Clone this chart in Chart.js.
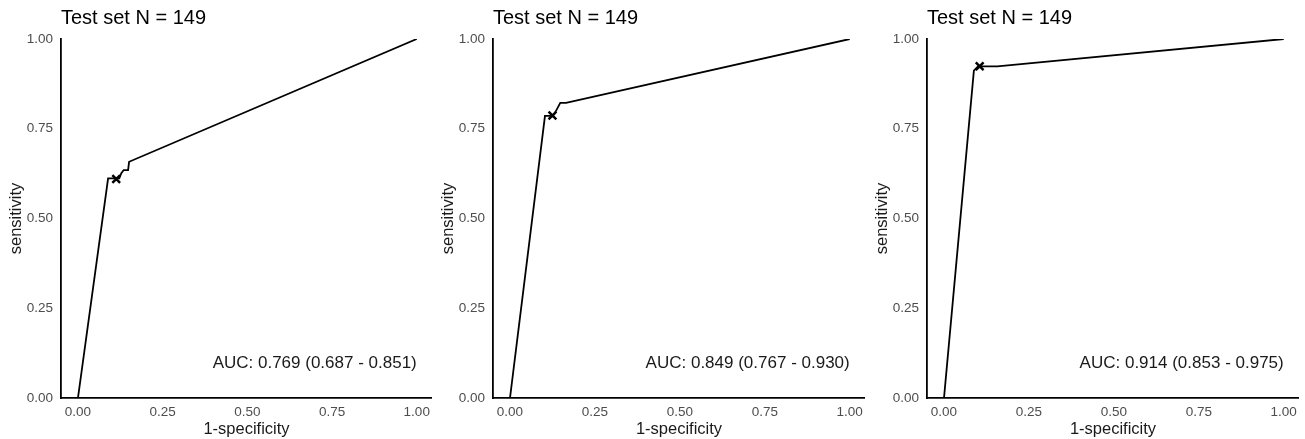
<!DOCTYPE html>
<html>
<head>
<meta charset="utf-8">
<script src="https://cdn.jsdelivr.net/npm/chart.js@4.4.1/dist/chart.umd.min.js"></script>
<style>
  body{ margin:0; background:#fff; }
  .panel{ position:absolute; top:0; }
</style>
</head>
<body>
<div class="panel" style="left:0px"><canvas id="roc1" width="432" height="439"></canvas></div>
<div class="panel" style="left:432px"><canvas id="roc2" width="433" height="439"></canvas></div>
<div class="panel" style="left:866px"><canvas id="roc3" width="433" height="439"></canvas></div>
<script>
// ========================== DATA ==========================
const tickValues = [0, 0.25, 0.5, 0.75, 1];
const titleText = "Test set N = 149";

// panel 1
const fpr1 = [0, 0.089, 0.11, 0.122, 0.128, 0.135, 0.148, 0.151, 1];
const tpr1 = [0, 0.612, 0.612, 0.612, 0.626, 0.635, 0.635, 0.658, 1];
const cut1 = [0.113, 0.61];
const auc1 = "AUC: 0.769 (0.687 - 0.851)";

// panel 2
const fpr2 = [0, 0.103, 0.12, 0.13, 0.148, 0.165, 1];
const tpr2 = [0, 0.786, 0.786, 0.79, 0.822, 0.822, 1];
const cut2 = [0.125, 0.787];
const auc2 = "AUC: 0.849 (0.767 - 0.930)";

// panel 3
const fpr3 = [0, 0.088, 0.1, 0.157, 1];
const tpr3 = [0, 0.912, 0.924, 0.924, 1];
const cut3 = [0.105, 0.924];
const auc3 = "AUC: 0.914 (0.853 - 0.975)";

// ========================== HELPERS ==========================
const FONT = "'Liberation Sans', Arial, sans-serif";

function toPoints(xs, ys){
  return xs.map((x,i)=>({x:x, y:ys[i]}));
}

// draws the AUC label bottom right, placed in data units
const aucLabel = {
  id:"aucLabel",
  afterDatasetsDraw(chart, args, opts){
    const ctx = chart.ctx;
    const xs = chart.scales.x, ys = chart.scales.y;
    ctx.save();
    ctx.font = "17px " + FONT;
    ctx.fillStyle = "#1a1a1a";
    ctx.textAlign = "right";
    ctx.textBaseline = "middle";
    ctx.fillText(opts.text, xs.getPixelForValue(1), ys.getPixelForValue(0.097));
    ctx.restore();
  }
};

// ========================== CHART ==========================
function makeRoc(id, fpr, tpr, cut, auc){
  const ctx = document.getElementById(id).getContext("2d");
  return new Chart(ctx,{
    type:"scatter",
    data:{
      datasets:[
        {
          data:toPoints(fpr,tpr),
          showLine:true,
          borderColor:"#000",
          borderWidth:1.8,
          pointRadius:0,
          tension:0
        },
        {
          data:[{x:cut[0], y:cut[1]}],
          pointStyle:"crossRot",
          pointRadius:5.5,
          borderColor:"#000",
          borderWidth:2.5
        }
      ]
    },
    options:{
      responsive:false,
      animation:false,
      layout:{ padding:0, autoPadding:false },
      plugins:{
        legend:{ display:false },
        tooltip:{ enabled:false },
        title:{
          display:true,
          text:titleText,
          align:"start",
          fullSize:false,
          color:"#000",
          font:{ family:FONT, size:20, weight:"normal", lineHeight:1.2 },
          padding:{ top:6, bottom:9 }
        },
        aucLabel:{ text:auc }
      },
      scales:{
        x:{
          type:"linear",
          min:-0.05, max:1.045,
          afterBuildTicks:(s)=>{ s.ticks = tickValues.map(v=>({value:v})); },
          afterFit:(s)=>{ s.height = 41; s.paddingLeft = 0; s.paddingRight = 0; },
          grid:{ display:false, drawTicks:false },
          border:{ display:true, color:"#000", width:1.8 },
          ticks:{
            color:"#4d4d4d", padding:6,
            font:{ family:FONT, size:13.5 },
            callback:(v)=>Number(v).toFixed(2)
          },
          title:{
            display:true, text:"1-specificity", color:"#1a1a1a",
            font:{ family:FONT, size:16.5 }, padding:0
          }
        },
        y:{
          type:"linear",
          min:0, max:1,
          afterBuildTicks:(s)=>{ s.ticks = tickValues.map(v=>({value:v})); },
          afterFit:(s)=>{ s.width = 61; },
          grid:{ display:false, drawTicks:false },
          border:{ display:true, color:"#000", width:1.8 },
          ticks:{
            color:"#4d4d4d", padding:8,
            font:{ family:FONT, size:13.5 },
            callback:(v)=>Number(v).toFixed(2)
          },
          title:{
            display:true, text:"sensitivity", color:"#1a1a1a",
            font:{ family:FONT, size:16.5 }, padding:{ top:7, bottom:0 }
          }
        }
      }
    },
    plugins:[aucLabel]
  });
}

// ========================== INITIALIZE ==========================
makeRoc("roc1", fpr1, tpr1, cut1, auc1);
makeRoc("roc2", fpr2, tpr2, cut2, auc2);
makeRoc("roc3", fpr3, tpr3, cut3, auc3);
</script>
</body>
</html>
